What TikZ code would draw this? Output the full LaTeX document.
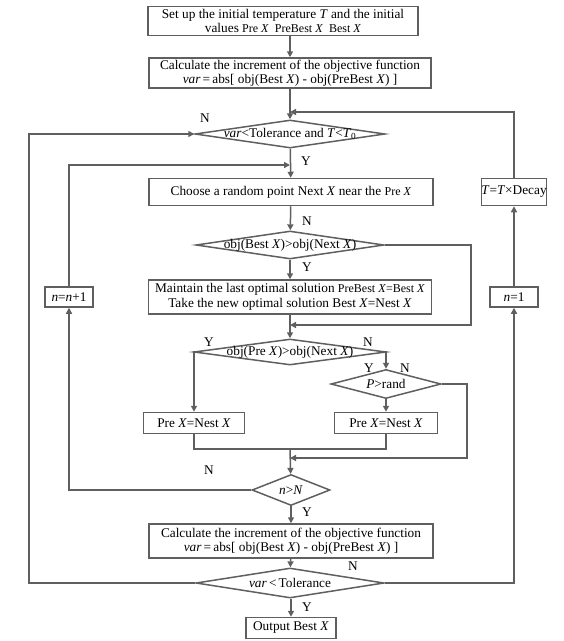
\documentclass[tikz,border=0pt]{standalone}
\usepackage{fontspec}
\setmainfont{Liberation Serif}
\usetikzlibrary{shapes.geometric, arrows.meta}
\definecolor{linegray}{RGB}{95,95,95}
\newcommand{\vX}{\textit{X}}
\newcommand{\vT}{\textit{T}}
\newcommand{\vn}{\textit{n}}
\newcommand{\smt}[1]{{\fontsize{12}{13}\selectfont #1}}

\begin{document}
\begin{tikzpicture}[x=1pt, y=-1pt,
        line/.style={draw=linegray, line width=1.5pt},
        arr/.style={line, -{Triangle[width=6pt, length=6pt]}},
        procbox/.style={draw=linegray, line width=1.5pt, inner sep=0pt, align=center,
            font=\fontsize{13.3}{14.5}\selectfont},
        decision/.style={draw=linegray, line width=1.5pt, diamond, inner sep=0pt},
        every label/.style={font=\fontsize{13.3}{14.5}\selectfont, inner sep=0pt},
        yn/.style={font=\fontsize{13.3}{14.5}\selectfont, inner sep=0pt}]
    \useasboundingbox (0,0) rectangle (564,641);

    % main column
    \node[procbox, minimum width=270, minimum height=29] (init) at (283,21)
        {Set up the initial temperature \vT{} and the initial\\values \smt{Pre \vX{}\ \ PreBest \vX{}\ \ Best \vX{}}};
    \node[procbox, minimum width=282, minimum height=30] (calc1) at (290,73)
        {Calculate the increment of the objective function\\\textit{var}\,=\,abs[ obj(Best \vX) - obj(PreBest \vX) ]};
    \node[decision, minimum width=190, minimum height=28,
        label=center:{\textit{var}<Tolerance and \vT<\vT\textsubscript{0}}] (tol1) at (290,134) {};
    \node[procbox, minimum width=284, minimum height=27] (choose) at (291,192)
        {Choose a random point Next \vX{} near the \smt{Pre \vX}};
    \node[decision, minimum width=188, minimum height=28,
        label=center:{obj(Best \vX)>obj(Next \vX)}] (best) at (290,245) {};
    \node[procbox, minimum width=283, minimum height=34] (keep) at (290,297)
        {Maintain the last optimal solution \smt{PreBest \vX=Best \vX}\\Take the new optimal solution Best \vX=Nest \vX};
    \node[decision, minimum width=192, minimum height=26,
        label=center:{obj(Pre \vX)>obj(Next \vX)}] (pre) at (290,352) {};
    \node[decision, minimum width=110, minimum height=29,
        label=center:{\textit{P}>rand}] (rand) at (386,384) {};
    \node[procbox, minimum width=101, minimum height=21] (setl) at (194,423) {Pre \vX=Nest \vX};
    \node[procbox, minimum width=103, minimum height=21] (setr) at (386,423) {Pre \vX=Nest \vX};
    \node[decision, minimum width=78, minimum height=31,
        label=center:{\vn>\textit{N}}] (count) at (291,490) {};
    \node[procbox, minimum width=284, minimum height=34] (calc2) at (291,541)
        {Calculate the increment of the objective function\\\textit{var}\,=\,abs[ obj(Best \vX) - obj(PreBest \vX) ]};
    \node[decision, minimum width=188, minimum height=30,
        label=center:{\textit{var}\,<\,Tolerance}] (tol2) at (290,583) {};
    \node[procbox, minimum width=90, minimum height=21] (out) at (291,628) {Output Best \vX};

    % side boxes
    \node[procbox, minimum width=48, minimum height=20] (incr) at (69,297) {\vn=\vn+1};
    \node[procbox, minimum width=48, minimum height=20] (reset) at (514,297) {\vn=1};
    \node[procbox, minimum width=62, minimum height=27] (decay) at (514,192) {\vT=\vT×Decay};

    % join points
    \coordinate (j1) at (290,112);
    \coordinate (j2) at (290,165);
    \coordinate (j3) at (290,325);
    \coordinate (m1) at (290,449);
    \coordinate (j4) at (290,458);
    \coordinate (lo) at (29,134);
    \coordinate (byp1) at (471,325);
    \coordinate (byp2) at (467,458);

    % connectors
    \draw[arr] (init.south -| calc1) -- (calc1);
    \draw[arr] (calc1) -- (tol1);
    \draw[arr] (tol1) -- (choose);
    \draw[arr] (choose) -- (best);
    \draw[arr] (best) -- (keep);
    \draw[arr] (keep) -- (pre);
    \draw[arr] (best.east) -| (byp1) -- (j3);
    \draw[arr] (pre.west) -| (setl.north);
    \draw[arr] (pre.east) -| (rand.north);
    \draw[arr] (rand) -- (setr);
    \draw[line] (setl.south) |- (m1) -| (setr.south);
    \draw[arr] (rand.east) -| (byp2) -- (j4);
    \draw[arr] (m1) -- (count);
    \draw[arr] (count.west) -| (incr.south);
    \draw[arr] (incr.north) |- (j2);
    \draw[arr] (count) -- (calc2);
    \draw[arr] (calc2) -- (tol2);
    \draw[arr] (tol2.west) -| (lo) -- (tol1.west);
    \draw[arr] (tol2.east) -| (reset.south);
    \draw[arr] (reset) -- (decay);
    \draw[arr] (decay.north) |- (j1);
    \draw[arr] (out.north |- tol2.south) -- (out);

    % branch labels
    \node[yn] (n1) at (205,118) {N};
    \node[yn] (y1) at (306,161) {Y};
    \node[yn] (n2) at (307,221) {N};
    \node[yn] (y2) at (307,267) {Y};
    \node[yn] (y3) at (209,342) {Y};
    \node[yn] (n3) at (368,342) {N};
    \node[yn] (y4) at (369,368) {Y};
    \node[yn] (n4) at (405,368) {N};
    \node[yn] (n5) at (209,470) {N};
    \node[yn] (y5) at (307,512) {Y};
    \node[yn] (n6) at (353,566) {N};
    \node[yn] (y6) at (307,607) {Y};
\end{tikzpicture}
\end{document}
